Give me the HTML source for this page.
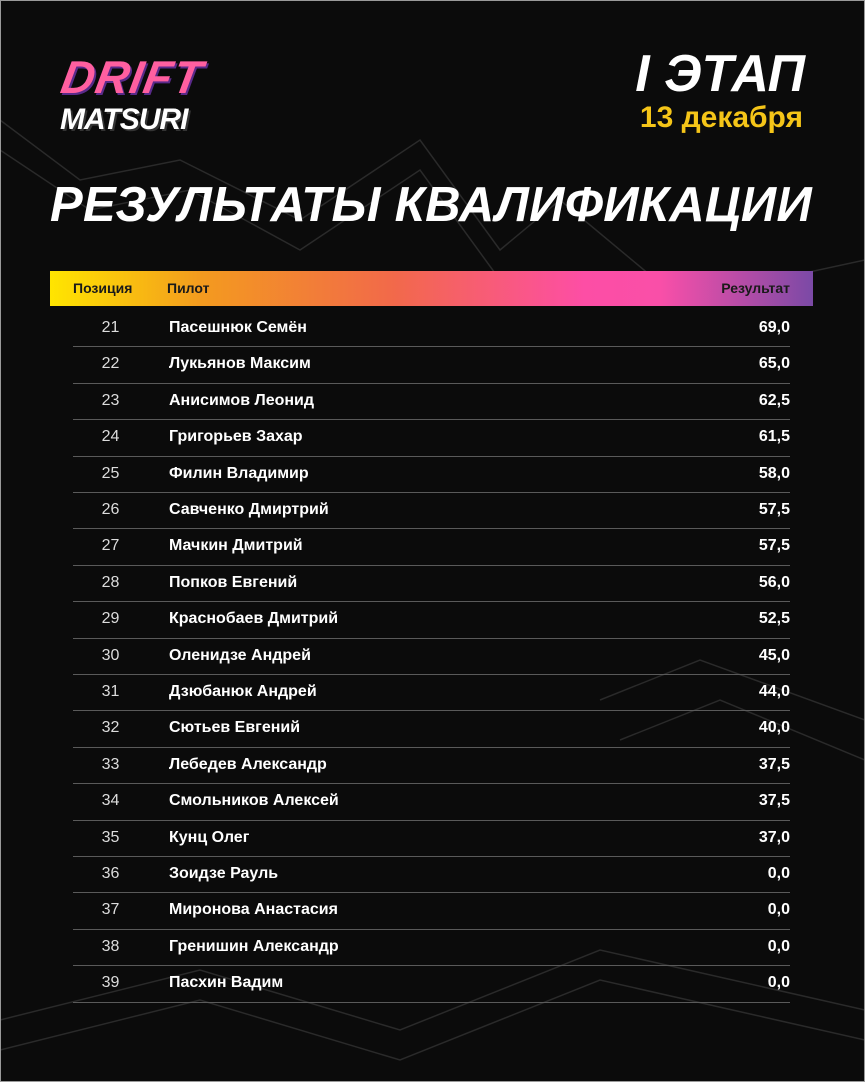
<!DOCTYPE html>
<html><head><meta charset="utf-8"><style>
*{margin:0;padding:0;box-sizing:border-box}
body{width:865px;height:1082px;background:#0b0b0b;position:relative;overflow:hidden;font-family:"Liberation Sans",sans-serif;color:#fff}
.frame{position:absolute;left:0;top:0;width:865px;height:1082px;border:1px solid #9a9a9a}
.logo1{position:absolute;left:62px;top:50px;font-size:46px;font-weight:bold;font-style:italic;color:#ff5fa0;letter-spacing:1px;transform:skewX(-10deg);text-shadow:2px 2px 0 #5a2a8a}
.logo2{position:absolute;left:60px;top:103px;font-size:30px;font-weight:900;font-style:italic;color:#fff;letter-spacing:-1px;text-shadow:2px 2px 0 #333}
.stage{position:absolute;right:60px;top:44px;font-size:52px;font-weight:900;font-style:italic}
.date{position:absolute;right:62px;top:101px;font-size:30px;font-weight:bold;color:#f5c518}
.title{position:absolute;left:50px;top:177px;font-size:49px;font-weight:900;font-style:italic;letter-spacing:0.3px;white-space:nowrap}
.bar{position:absolute;left:50px;top:271px;width:763px;height:35px;background:linear-gradient(90deg,#ffe500 0%,#f39a1f 20%,#f2694a 45%,#fd4ea5 70%,#f94fa8 80%,#7b4aa6 100%);color:#1a1a1a;font-size:14px;font-weight:bold}
.bar span{position:absolute;top:9px}
.row{position:absolute;left:73px;width:717px;height:36.4px;border-bottom:1px solid #5a5a5a;font-size:16px}
.row .p{position:absolute;left:0;width:75px;text-align:center;top:8px;color:#ddd}
.row .n{position:absolute;left:96px;top:8px;font-weight:bold}
.row .r{position:absolute;right:0;top:8px;font-weight:bold}
svg{position:absolute;left:0;top:0}
</style></head><body>
<svg width="865" height="1082" stroke="#2a2a2a" fill="none" stroke-width="1.5">
<polyline points="0,120 80,180 180,160 300,220 420,140 500,250 560,200 680,300 865,260"/>
<polyline points="0,150 90,210 190,190 300,250 420,170 500,280"/>
<polyline points="600,700 700,660 865,720"/>
<polyline points="620,740 720,700 865,760"/>
<polyline points="0,1050 200,1000 400,1060 600,980 865,1040"/>
<polyline points="0,1020 200,970 400,1030 600,950 865,1010"/>
</svg>
<div class="frame"></div>
<div class="logo1">DRIFT</div>
<div class="logo2">MATSURI</div>
<div class="stage">I ЭТАП</div>
<div class="date">13 декабря</div>
<div class="title">РЕЗУЛЬТАТЫ КВАЛИФИКАЦИИ</div>
<div class="bar"><span style="left:23px">Позиция</span><span style="left:117px">Пилот</span><span style="right:23px">Результат</span></div>
<div class="row" style="top:311px"><span class="p">21</span><span class="n">Пасешнюк Семён</span><span class="r">69,0</span></div>
<div class="row" style="top:347.4px"><span class="p">22</span><span class="n">Лукьянов Максим</span><span class="r">65,0</span></div>
<div class="row" style="top:383.8px"><span class="p">23</span><span class="n">Анисимов Леонид</span><span class="r">62,5</span></div>
<div class="row" style="top:420.2px"><span class="p">24</span><span class="n">Григорьев Захар</span><span class="r">61,5</span></div>
<div class="row" style="top:456.6px"><span class="p">25</span><span class="n">Филин Владимир</span><span class="r">58,0</span></div>
<div class="row" style="top:493px"><span class="p">26</span><span class="n">Савченко Дмиртрий</span><span class="r">57,5</span></div>
<div class="row" style="top:529.4px"><span class="p">27</span><span class="n">Мачкин Дмитрий</span><span class="r">57,5</span></div>
<div class="row" style="top:565.8px"><span class="p">28</span><span class="n">Попков Евгений</span><span class="r">56,0</span></div>
<div class="row" style="top:602.2px"><span class="p">29</span><span class="n">Краснобаев Дмитрий</span><span class="r">52,5</span></div>
<div class="row" style="top:638.6px"><span class="p">30</span><span class="n">Оленидзе Андрей</span><span class="r">45,0</span></div>
<div class="row" style="top:675px"><span class="p">31</span><span class="n">Дзюбанюк Андрей</span><span class="r">44,0</span></div>
<div class="row" style="top:711.4px"><span class="p">32</span><span class="n">Сютьев Евгений</span><span class="r">40,0</span></div>
<div class="row" style="top:747.8px"><span class="p">33</span><span class="n">Лебедев Александр</span><span class="r">37,5</span></div>
<div class="row" style="top:784.2px"><span class="p">34</span><span class="n">Смольников Алексей</span><span class="r">37,5</span></div>
<div class="row" style="top:820.6px"><span class="p">35</span><span class="n">Кунц Олег</span><span class="r">37,0</span></div>
<div class="row" style="top:857px"><span class="p">36</span><span class="n">Зоидзе Рауль</span><span class="r">0,0</span></div>
<div class="row" style="top:893.4px"><span class="p">37</span><span class="n">Миронова Анастасия</span><span class="r">0,0</span></div>
<div class="row" style="top:929.8px"><span class="p">38</span><span class="n">Гренишин Александр</span><span class="r">0,0</span></div>
<div class="row" style="top:966.2px"><span class="p">39</span><span class="n">Пасхин Вадим</span><span class="r">0,0</span></div>
</body></html>
